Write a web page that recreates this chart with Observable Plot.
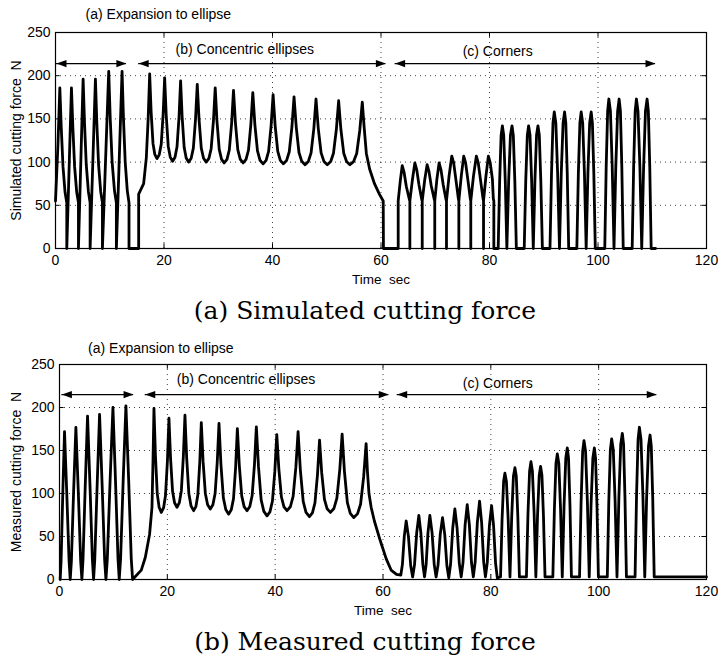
<!DOCTYPE html>
<html>
<head>
<meta charset="utf-8">
<script src="https://cdn.jsdelivr.net/npm/d3@7"></script>
<script src="https://cdn.jsdelivr.net/npm/@observablehq/plot@0.6"></script>
<style>
  body { margin: 0; background: #fff; }
  #fig { position: relative; width: 718px; height: 664px; background: #fff; overflow: hidden; }
  .panel { position: absolute; left: 0; }
  .cap { position: absolute; left: 0; width: 730px; text-align: center; font-family: "DejaVu Serif", serif;
         font-size: 25px; line-height: 24px; white-space: nowrap; color: #000; }
</style>
</head>
<body>
<div id="fig">
  <div id="p1" class="panel" style="top:0px"></div>
  <div class="cap" style="top:299px">(a) Simulated cutting force</div>
  <div id="p2" class="panel" style="top:332px"></div>
  <div class="cap" style="top:630px">(b) Measured cutting force</div>
</div>
<script>
// ---------- data ----------
const xTicks = [0, 20, 40, 60, 80, 100, 120];
const yTicks = [0, 50, 100, 150, 200, 250];
const segmentLabels = ["(a) Expansion to ellipse", "(b) Concentric ellipses", "(c) Corners"];
const xLabel = "Time\u00a0\u00a0sec";
const simYLabel = "Simulated cutting force\u00a0\u00a0N";
const meaYLabel = "Measured cutting force\u00a0\u00a0N";

const simLabelX = [18.95, 34.9, 81.5];
const simLabelY = [271, 230.3, 227.5];
const simArrowX1 = [0.18, 15.33, 62.6];
const simArrowX2 = [13.07, 60.9, 110.6];
const simArrowY = [214, 214, 214];

const meaLabelX = [18.8, 34.6, 81.3];
const meaLabelY = [269, 232.2, 228];
const meaArrowX1 = [0.44, 15.9, 62.63];
const meaArrowX2 = [13.74, 61.07, 110.77];
const meaArrowY = [215, 215, 215];

// simulated cutting force [time s, force N]
const simulated = [
 [0,55],[0.45,120],[0.8,186],[1.06,140],[1.38,95],[1.76,65],[2.08,53],[2.08,0],
 [2.55,102],[2.94,186],[3.2,140],[3.52,95],[3.91,65],[4.23,53],[4.23,0],
 [4.7,108],[5.09,196],[5.35,145],[5.67,97],[6.06,66],[6.38,53],[6.38,0],
 [6.92,108],[7.36,196],[7.62,145],[7.94,97],[8.33,66],[8.65,53],[8.65,0],
 [9.29,113],[9.81,205],[10.09,150],[10.44,100],[10.87,67],[11.22,53],[11.22,0],
 [11.8,113],[12.27,205],[12.53,150],[12.85,100],[13.23,67],[13.55,53],[13.55,0],
 [15.33,0],[15.33,63],[16.25,75],[16.74,105],[17.08,150],[17.36,202],
 [17.63,157.9],[17.97,121.6],[18.31,108.9],[18.71,104],
 [19.13,108.7],[19.49,120.8],[19.84,155.4],[20.12,197.5],
 [20.41,154.1],[20.78,118.4],[21.15,105.8],[21.59,101],
 [22.03,105.7],[22.4,117.7],[22.77,152.2],[23.06,194],
 [23.35,151.7],[23.72,116.9],[24.09,104.7],[24.53,100],
 [25.01,104.5],[25.41,116.2],[25.81,149.5],[26.13,190],
 [26.46,149.5],[26.87,116.2],[27.29,104.5],[27.78,100],
 [28.28,104.3],[28.69,115.5],[29.11,147.3],[29.44,186],
 [29.77,146.9],[30.18,114.7],[30.6,103.4],[31.09,99],
 [31.61,103.2],[32.04,114.1],[32.47,145.2],[32.81,183],
 [33.17,145.2],[33.61,114.1],[34.06,103.2],[34.59,99],
 [35.12,103.1],[35.57,113.7],[36.01,143.8],[36.37,180.5],
 [36.75,143.4],[37.23,112.9],[37.7,102.1],[38.27,98],
 [38.82,102],[39.28,112.4],[39.74,142],[40.11,178],
 [40.49,142],[40.97,112.4],[41.44,102],[42.01,98],
 [42.6,101.9],[43.09,112],[43.58,140.6],[43.97,175.5],
 [44.38,140.2],[44.88,111.1],[45.39,100.9],[46.0,97],
 [46.61,100.8],[47.11,110.7],[47.62,138.8],[48.02,173],
 [48.44,138.8],[48.96,110.7],[49.48,100.8],[50.1,97],
 [50.73,100.7],[51.24,110.3],[51.77,137.7],[52.19,171],
 [52.61,137.7],[53.13,110.3],[53.65,100.7],[54.27,97],
 [54.95,100.6],[55.52,110],[56.09,136.9],[56.55,169.5],
 [56.9,140],[57.3,110],[57.9,92],[58.8,75],[59.7,63],[60.41,55],[60.45,0],
 [63.17,0],
 [63.17,55],[63.55,78],[63.91,96],[64.26,88],[64.66,72],[65.22,57],[65.32,55],[65.32,0],
 [65.32,55],[65.8,80],[66.24,99],[66.59,91],[66.99,74],[67.5,57],[67.6,55],[67.6,0],
 [67.6,55],[68.05,79],[68.5,97],[68.85,89],[69.25,73],[69.81,57],[69.91,55],[69.91,0],
 [69.91,55],[70.3,80],[70.71,99],[71.06,91],[71.46,74],[71.97,57],[72.07,55],[72.07,0],
 [72.07,55],[72.55,84],[73.05,107],[73.4,99],[73.8,80],[74.25,58],[74.35,55],[74.35,0],
 [74.35,55],[74.8,84],[75.25,107],[75.6,99],[76.0,80],[76.45,58],[76.55,55],[76.55,0],
 [76.55,55],[77.05,84],[77.58,107],[77.93,99],[78.33,80],[78.8,58],[78.9,55],[78.9,0],
 [78.9,55],[79.35,84],[79.79,107],[80.14,99],[80.54,80],[80.7,58],[80.8,55],[80.8,0],
 [81.6,0],[81.87,78],[82.14,131],[82.37,142],[82.62,131],[82.91,78],[83.2,0],
 [83.53,78],[83.86,131],[84.15,142],[84.39,131],[84.67,78],[84.95,0],
 [86.4,0],[86.68,78],[86.97,131],[87.21,142],[87.47,131],[87.77,78],[88.07,0],
 [88.37,78],[88.67,131],[88.93,142],[89.18,131],[89.46,78],[89.75,0],
 [91.15,0],[91.43,87],[91.7,145],[91.94,158],[92.23,145],[92.56,87],[92.9,0],
 [93.23,87],[93.56,145],[93.84,158],[94.07,145],[94.33,87],[94.6,0],
 [96.1,0],[96.38,87],[96.66,145],[96.9,158],[97.18,145],[97.5,87],[97.82,0],
 [98.14,87],[98.46,145],[98.74,158],[98.97,145],[99.23,87],[99.5,0],
 [101.25,0],[101.51,95],[101.78,159],[102.0,173],[102.29,159],[102.62,95],[102.95,0],
 [103.28,95],[103.62,159],[103.9,173],[104.13,159],[104.39,95],[104.65,0],
 [106.3,0],[106.57,95],[106.85,159],[107.08,173],[107.37,159],[107.72,95],[108.06,0],
 [108.41,95],[108.75,159],[109.05,173],[109.28,159],[109.54,95],[109.8,0],
 [110.6,0]
];

// measured cutting force [time s, force N]
const measured = [
 [0.13,0],[0.29,21],[0.61,100],[0.93,172],[1.35,100],[1.78,21],[1.99,0],
 [2.2,21],[2.62,103],[3.04,177],[3.48,103],[3.93,21],[4.15,0],
 [4.36,23],[4.78,110],[5.2,190],[5.65,110],[6.1,23],[6.32,0],
 [6.54,23],[6.99,111],[7.43,192],[7.9,111],[8.37,23],[8.61,0],
 [8.87,24],[9.39,116],[9.91,200],[10.38,116],[10.85,24],[11.08,0],
 [11.33,24],[11.82,117],[12.32,202],[12.82,117],[13.31,24],[13.56,0],
 [15.17,10.9],[15.91,25.6],[16.71,52.7],[17.15,83.7],[17.35,140],[17.52,199],
 [17.79,144.6],[18.13,99.8],[18.47,84.1],[18.88,78],
 [19.31,83.5],[19.66,97.7],[20.02,138.2],[20.3,187.5],
 [20.6,140.9],[20.97,102.6],[21.34,89.2],[21.79,84],
 [22.23,89.4],[22.6,103.3],[22.97,142.9],[23.27,191],
 [23.59,141.1],[23.99,100],[24.4,85.6],[24.88,80],
 [25.31,85.1],[25.66,98.5],[26.02,136.4],[26.3,182.5],
 [26.63,137.3],[27.05,100.1],[27.47,87],[27.97,82],
 [28.45,87],[28.86,99.9],[29.26,136.7],[29.58,181.5],
 [29.94,134],[30.39,95],[30.84,81.3],[31.38,76],
 [31.86,81],[32.27,93.9],[32.67,130.7],[32.99,175.5],
 [33.35,132.5],[33.8,97.2],[34.24,84.8],[34.78,80],
 [35.3,84.9],[35.73,97.6],[36.16,133.6],[36.51,177.5],
 [36.91,130.9],[37.4,92.6],[37.9,79.2],[38.49,74],
 [39.03,78.7],[39.49,91],[39.94,126],[40.3,168.5],
 [40.68,128.7],[41.16,95.9],[41.63,84.4],[42.2,80],
 [42.82,84.6],[43.33,96.6],[43.84,130.6],[44.25,172],
 [44.67,127.5],[45.2,90.8],[45.72,78],[46.35,73],
 [46.91,77.5],[47.38,89],[47.85,122],[48.23,162],
 [48.63,124.2],[49.14,93.1],[49.64,82.2],[50.25,78],
 [50.9,82.6],[51.44,94.4],[51.99,128.1],[52.42,169],
 [52.85,125.4],[53.39,89.5],[53.93,76.9],[54.58,72],
 [55.27,76.3],[55.84,87.5],[56.41,119.3],[56.87,158],
 [57.12,125],[57.4,100],[57.8,84],[58.4,68],[59.5,45],[60.6,24],[61.5,11],[62.5,6],[63.3,5],
 [63.6,17.6],[63.95,50.4],[64.3,68],[64.72,49.8],[65.14,16],[65.5,3],
 [65.85,17.3],[66.25,54.5],[66.65,74.5],[67.02,54.5],[67.39,17.3],[67.7,3],
 [68.0,17.3],[68.34,54.5],[68.69,74.5],[69.1,54.5],[69.5,17.3],[69.85,3],
 [70.21,16.8],[70.62,52.7],[71.04,72],[71.45,52.4],[71.85,16],[72.2,2],
 [72.54,18],[72.93,59.6],[73.33,82],[73.74,59.9],[74.15,18.8],[74.5,3],
 [74.84,19.8],[75.23,63.5],[75.62,87],[76.02,63.5],[76.41,19.8],[76.75,3],
 [77.1,20.6],[77.5,66.4],[77.91,91],[78.29,66.4],[78.67,20.6],[79.0,3],
 [79.34,19.6],[79.74,62.8],[80.14,86],[80.51,62.5],[80.88,18.8],[81.2,2],
 [81.8,3],[82.08,69],[82.37,114],[82.61,123.6],[82.89,114],[83.22,69],[83.55,3],
 [83.87,73],[84.19,120],[84.47,130],[84.72,120],[85.01,73],[85.3,3],
 [86.6,3],[86.89,77],[87.19,126],[87.44,137],[87.71,126],[88.03,77],[88.35,3],
 [88.66,74],[88.97,121],[89.23,131.5],[89.48,121],[89.76,74],[90.05,3],
 [91.5,3],[91.79,82],[92.08,135],[92.33,146],[92.61,135],[92.93,82],[93.25,3],
 [93.58,85.5],[93.9,141],[94.18,153],[94.41,141],[94.68,85.5],[94.95,3],
 [96.45,3],[96.74,90],[97.03,149],[97.28,161.5],[97.57,149],[97.91,90],[98.25,3],
 [98.58,85.5],[98.92,141],[99.2,153],[99.42,141],[99.69,85.5],[99.95,3],
 [101.6,3],[101.88,91],[102.17,151],[102.41,163.5],[102.71,151],[103.05,91],[103.4,3],
 [103.75,95],[104.09,157],[104.39,170],[104.62,157],[104.88,95],[105.15,3],
 [106.75,3],[107.03,99],[107.31,163],[107.55,177],[107.85,163],[108.2,99],[108.55,3],
 [108.89,94],[109.24,155],[109.53,168],[109.76,155],[110.03,94],[110.3,3],
 [120,3]
];

// ---------- drawing ----------
const headRight = { draw(ctx) { ctx.moveTo(0, 0); ctx.lineTo(-10, -3.6); ctx.lineTo(-10, 3.6); ctx.closePath(); } };
const headLeft  = { draw(ctx) { ctx.moveTo(0, 0); ctx.lineTo(10, -3.6); ctx.lineTo(10, 3.6); ctx.closePath(); } };

function panel({series, yLabel, labelX, labelY, arrowX1, arrowX2, arrowY, marginLeft, marginBottom, yLabelDx}) {
  const labels = segmentLabels.map((s, i) => ({x: labelX[i], y: labelY[i], s}));
  const arrows = arrowX1.map((x1, i) => ({x1, x2: arrowX2[i], y: arrowY[i]}));
  return Plot.plot({
    width: 718,
    height: 290,
    marginLeft,
    marginRight: 12,
    marginTop: 32,
    marginBottom,
    x: {domain: [0, 120]},
    y: {domain: [0, 250]},
    style: {fontFamily: "'Liberation Sans', Arial, sans-serif", fontSize: "14px", color: "#000", background: "#fff", overflow: "visible"},
    marks: [
      Plot.gridX(xTicks, {stroke: "#000", strokeOpacity: 0.75, strokeWidth: 1, strokeDasharray: "1,4"}),
      Plot.gridY(yTicks, {stroke: "#000", strokeOpacity: 0.75, strokeWidth: 1, strokeDasharray: "1,4"}),
      Plot.ruleX(xTicks, {x: d => d, y1: 0, y2: 5.5, stroke: "#000"}),
      Plot.ruleX(xTicks, {x: d => d, y1: 250, y2: 244.5, stroke: "#000"}),
      Plot.ruleY(yTicks, {y: d => d, x1: 0, x2: 0.85, stroke: "#000"}),
      Plot.ruleY(yTicks, {y: d => d, x1: 120, x2: 119.15, stroke: "#000"}),
      Plot.axisX(xTicks, {tickSize: 0, tickPadding: 7, label: null, fontSize: 14}),
      Plot.axisY(yTicks, {tickSize: 0, tickPadding: 5, label: null, fontSize: 14}),
      Plot.frame({stroke: "#000", strokeWidth: 1.2}),
      Plot.line(series, {x: d => d[0], y: d => d[1], stroke: "#000", strokeWidth: 2.8, strokeLinejoin: "round"}),
      Plot.ruleY(arrows, {y: "y", x1: "x1", x2: "x2", stroke: "#000", strokeWidth: 1.3}),
      Plot.dot(arrows, {x: "x1", y: "y", symbol: headLeft, fill: "#000", stroke: "none"}),
      Plot.dot(arrows, {x: "x2", y: "y", symbol: headRight, fill: "#000", stroke: "none"}),
      Plot.text(labels, {x: "x", y: "y", text: "s", fontSize: 14, fill: "#000"}),
      Plot.text([xLabel], {frameAnchor: "bottom", dy: 31, lineAnchor: "middle", textAnchor: "middle", text: d => d, fontSize: 13.5, fill: "#000"}),
      Plot.text([yLabel], {frameAnchor: "left", dx: yLabelDx, rotate: -90, textAnchor: "middle", lineAnchor: "middle", text: d => d, fontSize: 14, fill: "#000"})
    ]
  });
}

document.getElementById("p1").appendChild(panel({
  series: simulated, yLabel: simYLabel,
  labelX: simLabelX, labelY: simLabelY,
  arrowX1: simArrowX1, arrowX2: simArrowX2, arrowY: simArrowY,
  marginLeft: 55, marginBottom: 42, yLabelDx: -39
}));
document.getElementById("p2").appendChild(panel({
  series: measured, yLabel: meaYLabel,
  labelX: meaLabelX, labelY: meaLabelY,
  arrowX1: meaArrowX1, arrowX2: meaArrowX2, arrowY: meaArrowY,
  marginLeft: 59, marginBottom: 43, yLabelDx: -43
}));
</script>
</body>
</html>
